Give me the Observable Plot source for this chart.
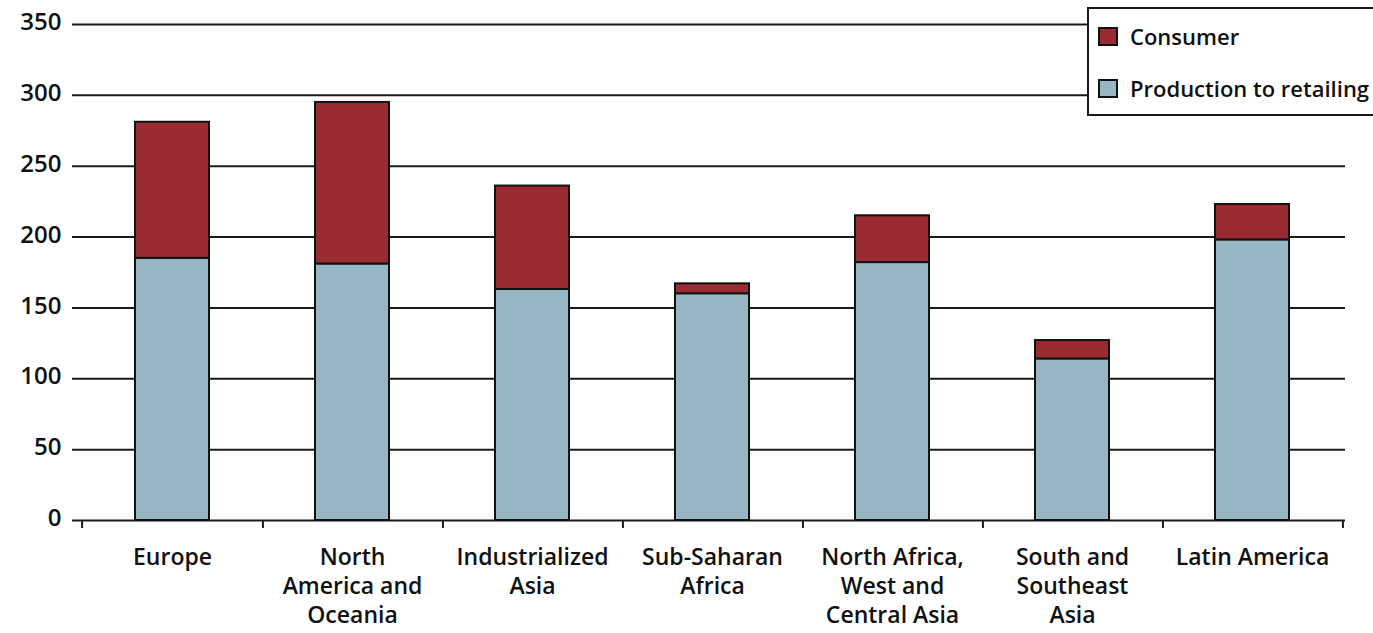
<!DOCTYPE html>
<html>
<head>
<meta charset="utf-8">
<script src="https://cdn.jsdelivr.net/npm/d3@7"></script>
<script src="https://cdn.jsdelivr.net/npm/@observablehq/plot@0.6"></script>
<style>
  html, body { margin: 0; padding: 0; background: #fff; overflow: hidden; }
  #wrap { position: relative; width: 1373px; height: 633px; }
  #legend {
    position: absolute; left: 1087px; top: 7px; width: 320px; height: 109px;
    background: #fff; border: 2px solid #1a1a1a; box-sizing: border-box;
    font-family: "Open Sans", sans-serif; font-weight: 600; font-size: 22px; color: #111;
  }
  .item { position: absolute; left: 9px; display: flex; align-items: center; line-height: 26px; }
  .sw { width: 20px; height: 19px; border: 2px solid #111; box-sizing: border-box; margin-right: 12px; }
</style>
</head>
<body>
<div id="wrap">
  <div id="chart"></div>
  <div id="legend"></div>
</div>
<script>
const categories = [
  "Europe",
  "North\nAmerica and\nOceania",
  "Industrialized\nAsia",
  "Sub-Saharan\nAfrica",
  "North Africa,\nWest and\nCentral Asia",
  "South and\nSoutheast\nAsia",
  "Latin America"
];
const production = [185, 181, 163, 160, 182, 114, 198];
const consumer   = [96, 114, 73, 7, 33, 13, 25];
const seriesNames = ["Production to retailing", "Consumer"];
const seriesColors = ["#96b6c3", "#9b2b32"];
const yTicks = [0, 50, 100, 150, 200, 250, 300, 350];

const rows = [];
categories.forEach((c, i) => {
  rows.push({category: c, series: seriesNames[0], value: production[i]});
  rows.push({category: c, series: seriesNames[1], value: consumer[i]});
});

const W = 1373, H = 633, mL = 79, mR = 28, mT = 24, mB = 113;
const step = (W - mL - mR) / categories.length;

const chart = Plot.plot({
  width: W, height: H,
  marginLeft: mL, marginRight: mR, marginTop: mT, marginBottom: mB,
  style: {fontFamily: "Open Sans, sans-serif", fontWeight: 600, color: "#111", background: "#fff"},
  x: {domain: categories, paddingInner: 0.59, paddingOuter: 0.295, label: null},
  y: {domain: [0, 350], label: null},
  color: {domain: seriesNames, range: seriesColors},
  marks: [
    Plot.ruleY(yTicks, {y: d => d, stroke: "#1a1a1a", strokeWidth: 2, insetLeft: -7}),
    Plot.barY(rows, {x: "category", y: "value", fill: "series", stroke: "#111", strokeWidth: 2,
      order: seriesNames}),
    Plot.ruleX(categories, {x: d => d, dx: step / 2, stroke: "#1a1a1a", strokeWidth: 2, insetTop: H - mT - mB, insetBottom: -8}),
    Plot.ruleX(categories.slice(0, 1), {x: d => d, dx: -step / 2, stroke: "#1a1a1a", strokeWidth: 2, insetTop: H - mT - mB, insetBottom: -8}),
    Plot.axisY({ticks: yTicks, tickSize: 0, tickPadding: 18, fontSize: 24, label: null, dy: -2}),
    Plot.axisX({tickSize: 0, tickPadding: 24, fontSize: 23, lineHeight: 1.26, label: null})
  ]
});
document.getElementById("chart").appendChild(chart);

const legend = document.getElementById("legend");
[[seriesNames[1], seriesColors[1], 14], [seriesNames[0], seriesColors[0], 66]].forEach(([name, col, top]) => {
  const it = document.createElement("div");
  it.className = "item";
  it.style.top = top + "px";
  const sw = document.createElement("div");
  sw.className = "sw";
  sw.style.background = col;
  const tx = document.createElement("span");
  tx.textContent = name;
  it.appendChild(sw); it.appendChild(tx);
  legend.appendChild(it);
});
</script>
</body>
</html>
